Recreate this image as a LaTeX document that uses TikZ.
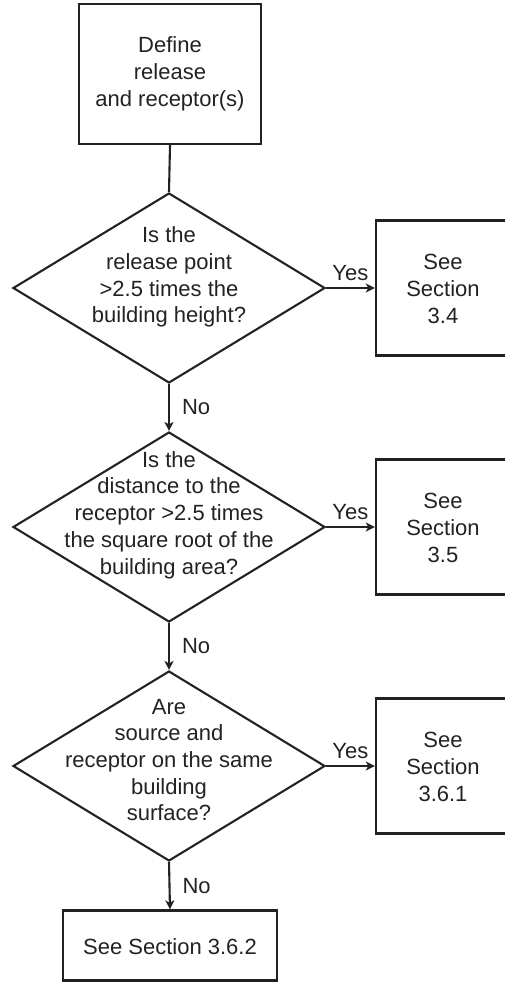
\documentclass[tikz,border=0pt]{standalone}
\usepackage{fontspec}
\setmainfont{Liberation Sans}
\usetikzlibrary{shapes.geometric,arrows.meta}
\definecolor{ink}{HTML}{222222}
\begin{document}
\begin{tikzpicture}[x=1pt,y=-1pt,
  every node/.style={text=ink},
  txt/.style={align=center,font=\fontsize{22}{26.7}\selectfont,inner sep=0pt},
  procbox/.style={draw=ink,line width=2.4pt,rectangle,inner sep=0pt},
  decision/.style={draw=ink,line width=2.1pt,diamond,inner sep=0pt,
    minimum width=312pt,minimum height=190pt},
  link/.style={draw=ink,line width=2.1pt},
  flow/.style={link,-{Stealth[length=9pt,width=9pt,inset=2.5pt]}},
  yeslbl/.style={font=\fontsize{22}{26.7}\selectfont,midway,above=6pt,inner sep=0pt},
  nolbl/.style={font=\fontsize{22}{26.7}\selectfont,midway,right=12pt,inner sep=0pt}]
\useasboundingbox (0,0) rectangle (505,982);

% start box
\node[procbox,minimum width=182pt,minimum height=140pt] (start) at (170,74) {};
\node[txt] (starttxt) at (170,74) {Define\\release\\and receptor(s)};

% decisions
\node[decision] (d1) at (169,288) {};
\node[txt] (d1txt) at (169,277) {Is the\\release point\\>2.5 times the\\building height?};
\node[decision] (d2) at (169,527) {};
\node[txt] (d2txt) at (169,515) {Is the\\distance to the\\receptor >2.5 times\\the square root of the\\building area?};
\node[decision] (d3) at (169,766) {};
\node[txt] (d3txt) at (169,760) {Are\\source and\\receptor on the same\\building\\surface?};

% outcome boxes on the right
\node[procbox,minimum width=134pt,minimum height=135pt] (s34) at (443,288) {};
\node[txt] (s34txt) at (443,289) {See\\Section\\3.4};
\node[procbox,minimum width=134pt,minimum height=135pt] (s35) at (443,527) {};
\node[txt] (s35txt) at (443,528) {See\\Section\\3.5};
\node[procbox,minimum width=134pt,minimum height=135pt] (s361) at (443,766) {};
\node[txt] (s361txt) at (443,767) {See\\Section\\3.6.1};

% final box
\node[procbox,minimum width=214pt,minimum height=70pt] (s362) at (170,945.5) {};
\node[txt] (s362txt) at (170,947) {See Section 3.6.2};

% connectors
\draw[link] (start.south) -- (d1.north);
\draw[flow] (d1.east) -- (s34.west) node[yeslbl] (y1) {Yes};
\draw[flow] (d1.south) -- (d2.north) node[nolbl] (n1) {No};
\draw[flow] (d2.east) -- (s35.west) node[yeslbl] (y2) {Yes};
\draw[flow] (d2.south) -- (d3.north) node[nolbl] (n2) {No};
\draw[flow] (d3.east) -- (s361.west) node[yeslbl] (y3) {Yes};
\draw[flow] (d3.south) -- (s362.north) node[nolbl] (n3) {No};
\end{tikzpicture}
\end{document}
